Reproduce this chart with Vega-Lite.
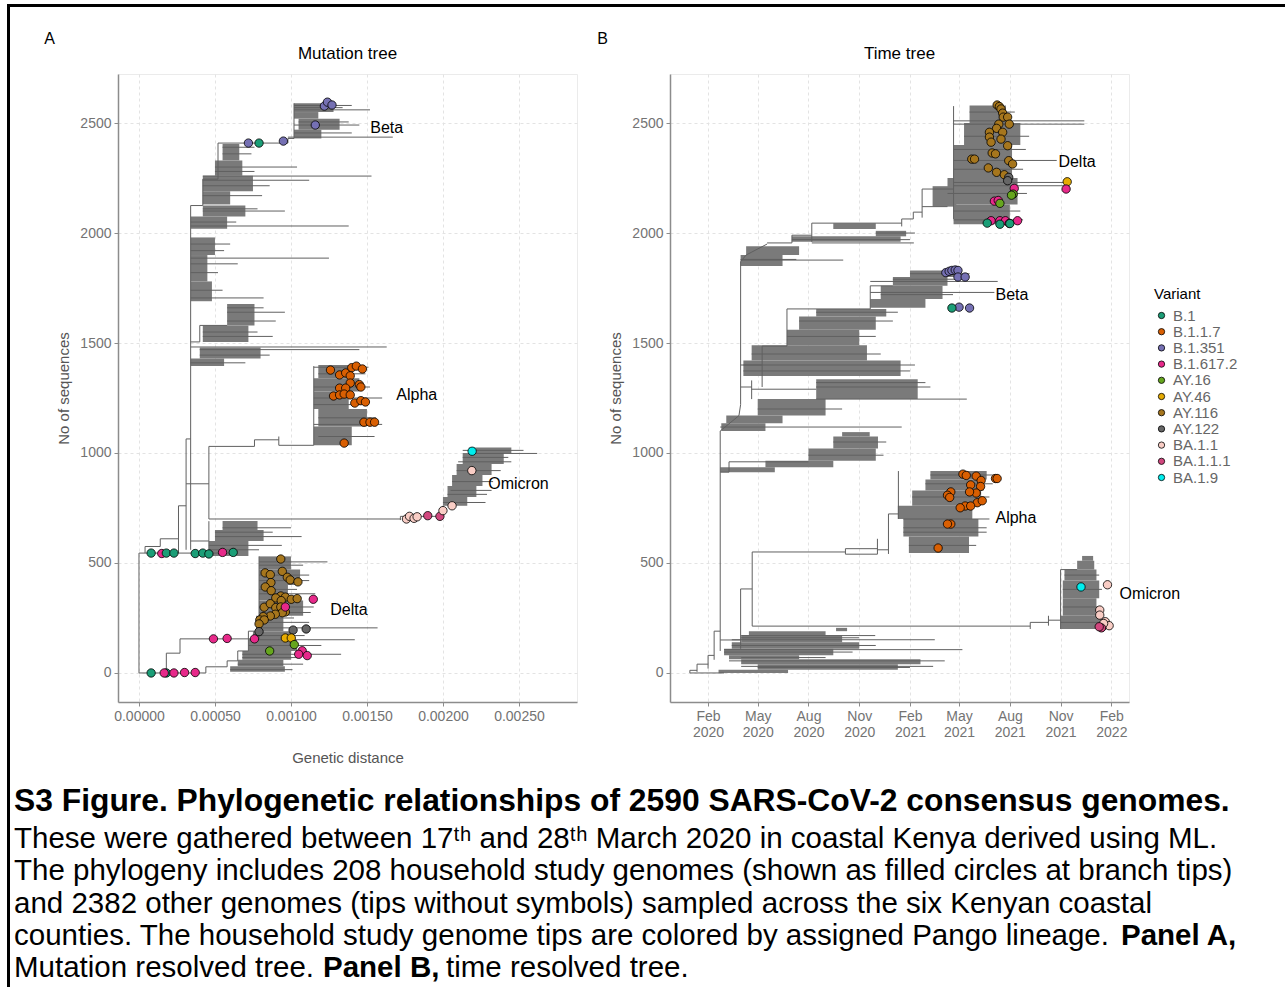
{
  "$schema": "https://vega.github.io/schema/vega-lite/v6.json",
  "padding": {"left": 7, "top": 4, "right": 0, "bottom": 0},
  "background": "white",
  "spacing": 0,
  "config": {
    "font": "Liberation Sans",
    "view": {"stroke": "#ebebeb", "strokeWidth": 1},
    "axis": {"domainColor": "#8c8c8c", "domainWidth": 1.5, "tickColor": "#8c8c8c", "tickSize": 4, "tickWidth": 1, "labelColor": "#737373", "labelFontSize": 14, "labelFont": "Liberation Sans", "titleColor": "#555555", "titleFontSize": 15, "titleFontWeight": "normal", "titleFont": "Liberation Sans", "gridColor": "#e3e3e3", "gridDash": [3, 3], "gridWidth": 1},
    "title": {"fontWeight": "normal", "color": "black", "font": "Liberation Sans"}
  },
  "datasets": {
    "none": [],
    "segA": [
      {"x":0,"x2":0,"y":0,"y2":545},{"x":0,"x2":0.00044,"y":0,"y2":0},{"x":0.00018,"x2":0.00018,"y":0,"y2":90},{"x":0.00018,"x2":0.00027,"y":90,"y2":90},{"x":0.00027,"x2":0.00027,"y":90,"y2":155},{"x":0.00027,"x2":0.00079,"y":155,"y2":155},{"x":0.00044,"x2":0.00044,"y":0,"y2":28},{"x":0.00044,"x2":0.00058,"y":28,"y2":28},{"x":0.00058,"x2":0.00058,"y":28,"y2":55},{"x":0.00058,"x2":0.00065,"y":55,"y2":55},{"x":0.00065,"x2":0.00065,"y":55,"y2":100},{"x":0.00065,"x2":0.00072,"y":100,"y2":100},{"x":0.00072,"x2":0.00072,"y":100,"y2":190},{"x":0.00072,"x2":0.00079,"y":190,"y2":190},{"x":0.00079,"x2":0.00079,"y":155,"y2":530},
      {"x":0,"x2":0.00062,"y":545,"y2":545},{"x":0.00004,"x2":0.00004,"y":545,"y2":575},{"x":0.00004,"x2":0.00014,"y":575,"y2":575},{"x":0.00014,"x2":0.00014,"y":575,"y2":610},{"x":0.00014,"x2":0.00026,"y":610,"y2":610},{"x":0.00026,"x2":0.00026,"y":545,"y2":760},{"x":0.00026,"x2":0.00031,"y":760,"y2":760},{"x":0.00031,"x2":0.00031,"y":560,"y2":1064},{"x":0.00031,"x2":0.00034,"y":1064,"y2":1064},{"x":0.00034,"x2":0.00034,"y":560,"y2":2125},{"x":0.00034,"x2":0.00046,"y":600,"y2":600},{"x":0.00046,"x2":0.00046,"y":540,"y2":690},
      {"x":0.00031,"x2":0.00046,"y":860,"y2":860},{"x":0.00046,"x2":0.00046,"y":700,"y2":1030},{"x":0.00046,"x2":0.00172,"y":700,"y2":700},{"x":0.00172,"x2":0.00172,"y":695,"y2":712},{"x":0.00172,"x2":0.002,"y":712,"y2":712},{"x":0.002,"x2":0.002,"y":712,"y2":760},
      {"x":0.00046,"x2":0.00076,"y":1030,"y2":1030},{"x":0.00076,"x2":0.00076,"y":1030,"y2":1060},{"x":0.00076,"x2":0.00092,"y":1060,"y2":1060},{"x":0.00092,"x2":0.00092,"y":1035,"y2":1075},{"x":0.00092,"x2":0.00115,"y":1035,"y2":1035},{"x":0.00115,"x2":0.00115,"y":1035,"y2":1395},
      {"x":0.00034,"x2":0.00042,"y":2125,"y2":2125},{"x":0.00042,"x2":0.00042,"y":2125,"y2":2245},{"x":0.00042,"x2":0.00052,"y":2245,"y2":2245},{"x":0.00052,"x2":0.00052,"y":2245,"y2":2409},{"x":0.00052,"x2":0.00098,"y":2409,"y2":2409},{"x":0.00098,"x2":0.00098,"y":2409,"y2":2430},{"x":0.00098,"x2":0.00102,"y":2430,"y2":2430},{"x":0.00102,"x2":0.00102,"y":2430,"y2":2590},
      {"x":0.00034,"x2":0.0004,"y":1505,"y2":1505},{"x":0.0004,"x2":0.0004,"y":1505,"y2":1580},{"x":0.0004,"x2":0.00058,"y":1580,"y2":1580},
      {"x":0.00079,"x2":0.00124,"y":505,"y2":505},{"x":0.00079,"x2":0.00115,"y":300,"y2":300},{"x":0.00079,"x2":0.00157,"y":205,"y2":205},{"x":0.00072,"x2":0.00142,"y":151,"y2":151},{"x":0.00079,"x2":0.00112,"y":230,"y2":230},{"x":0.00079,"x2":0.00112,"y":420,"y2":420},{"x":0.00079,"x2":0.00116,"y":360,"y2":360},{"x":0.00068,"x2":0.00133,"y":85,"y2":85},{"x":0.00072,"x2":0.0012,"y":125,"y2":125},{"x":0.00065,"x2":0.00108,"y":40,"y2":40},
      {"x":0.00079,"x2":0.00108,"y":490,"y2":490},{"x":0.00079,"x2":0.00112,"y":445,"y2":445},{"x":0.00079,"x2":0.00104,"y":380,"y2":380},{"x":0.00079,"x2":0.00113,"y":275,"y2":275},{"x":0.00077,"x2":0.00102,"y":250,"y2":250},{"x":0.0006,"x2":0.00101,"y":15,"y2":15},{"x":0.00068,"x2":0.00106,"y":70,"y2":70},{"x":0.00075,"x2":0.00109,"y":170,"y2":170},
      {"x":0.0005,"x2":0.00107,"y":620,"y2":620},{"x":0.00046,"x2":0.00094,"y":580,"y2":580},{"x":0.00055,"x2":0.001,"y":660,"y2":660},{"x":0.00046,"x2":0.00079,"y":560,"y2":560},{"x":0.0005,"x2":0.00088,"y":640,"y2":640},
      {"x":0.00217,"x2":0.00262,"y":998,"y2":998},{"x":0.00213,"x2":0.00253,"y":1012,"y2":1012},{"x":0.0021,"x2":0.00245,"y":960,"y2":960},{"x":0.00205,"x2":0.00232,"y":830,"y2":830},{"x":0.002,"x2":0.00228,"y":775,"y2":775},{"x":0.00203,"x2":0.00229,"y":812,"y2":812},{"x":0.00206,"x2":0.00233,"y":870,"y2":870},{"x":0.00209,"x2":0.00238,"y":920,"y2":920},{"x":0.00213,"x2":0.00243,"y":980,"y2":980},
      {"x":0.00115,"x2":0.0016,"y":1130,"y2":1130},{"x":0.00115,"x2":0.0016,"y":1250,"y2":1250},{"x":0.00115,"x2":0.00151,"y":1390,"y2":1390},{"x":0.00118,"x2":0.00155,"y":1075,"y2":1075},{"x":0.00115,"x2":0.00152,"y":1300,"y2":1300},{"x":0.00118,"x2":0.00156,"y":1160,"y2":1160},{"x":0.00115,"x2":0.00146,"y":1220,"y2":1220},{"x":0.00118,"x2":0.00149,"y":1360,"y2":1360},
      {"x":0.00102,"x2":0.00152,"y":2560,"y2":2560},{"x":0.00102,"x2":0.00145,"y":2491,"y2":2491},{"x":0.00098,"x2":0.00167,"y":2436,"y2":2436},{"x":0.00102,"x2":0.0014,"y":2580,"y2":2580},{"x":0.00102,"x2":0.0014,"y":2455,"y2":2455},{"x":0.00105,"x2":0.00138,"y":2505,"y2":2505},{"x":0.00102,"x2":0.00134,"y":2570,"y2":2570},
      {"x":0.00042,"x2":0.00153,"y":2259,"y2":2259},{"x":0.00042,"x2":0.00112,"y":2240,"y2":2240},{"x":0.0005,"x2":0.00104,"y":2300,"y2":2300},{"x":0.00042,"x2":0.00096,"y":2100,"y2":2100},{"x":0.00034,"x2":0.00138,"y":2032,"y2":2032},{"x":0.00034,"x2":0.00125,"y":1886,"y2":1886},{"x":0.00034,"x2":0.00082,"y":1705,"y2":1705},{"x":0.00034,"x2":0.00065,"y":1860,"y2":1860},{"x":0.00034,"x2":0.0006,"y":1950,"y2":1950},{"x":0.00058,"x2":0.00096,"y":1640,"y2":1640},{"x":0.00058,"x2":0.0009,"y":1600,"y2":1600},{"x":0.00042,"x2":0.00088,"y":1530,"y2":1530},{"x":0.00034,"x2":0.00163,"y":1482,"y2":1482},{"x":0.0004,"x2":0.00145,"y":1470,"y2":1470},{"x":0.00034,"x2":0.0007,"y":1410,"y2":1410},
      {"x":0.00042,"x2":0.00081,"y":2170,"y2":2170},{"x":0.00042,"x2":0.00086,"y":2215,"y2":2215},{"x":0.0005,"x2":0.00076,"y":2280,"y2":2280},{"x":0.00055,"x2":0.00074,"y":2360,"y2":2360},{"x":0.00055,"x2":0.00076,"y":2390,"y2":2390},{"x":0.00034,"x2":0.00064,"y":2050,"y2":2050},{"x":0.00042,"x2":0.00078,"y":2110,"y2":2110},{"x":0.00034,"x2":0.00056,"y":1920,"y2":1920},{"x":0.00034,"x2":0.00052,"y":1820,"y2":1820},{"x":0.00034,"x2":0.00055,"y":1740,"y2":1740},{"x":0.00058,"x2":0.00082,"y":1660,"y2":1660},{"x":0.00042,"x2":0.00078,"y":1550,"y2":1550},{"x":0.0004,"x2":0.00086,"y":1445,"y2":1445}
    ],
    "blkA": [
      {"x":0.00079,"x2":0.001,"y":470,"y2":530},{"x":0.00079,"x2":0.00106,"y":400,"y2":470},{"x":0.00079,"x2":0.00098,"y":330,"y2":400},{"x":0.00079,"x2":0.00108,"y":260,"y2":330},{"x":0.00077,"x2":0.00095,"y":190,"y2":260},
      {"x":0.0006,"x2":0.00096,"y":5,"y2":30},{"x":0.00065,"x2":0.00095,"y":30,"y2":60},{"x":0.00068,"x2":0.001,"y":60,"y2":100},{"x":0.00072,"x2":0.00104,"y":100,"y2":150},{"x":0.00075,"x2":0.00102,"y":150,"y2":190},
      {"x":0.00046,"x2":0.00072,"y":532,"y2":600},{"x":0.0005,"x2":0.00082,"y":600,"y2":650},{"x":0.00055,"x2":0.00078,"y":650,"y2":691},
      {"x":0.002,"x2":0.00216,"y":760,"y2":800},{"x":0.00203,"x2":0.00222,"y":800,"y2":850},{"x":0.00206,"x2":0.00226,"y":850,"y2":900},{"x":0.00209,"x2":0.00232,"y":900,"y2":950},{"x":0.00213,"x2":0.0024,"y":950,"y2":1000},{"x":0.00217,"x2":0.00245,"y":1000,"y2":1025},
      {"x":0.00115,"x2":0.0014,"y":1035,"y2":1120},{"x":0.00118,"x2":0.0015,"y":1120,"y2":1200},{"x":0.00115,"x2":0.00138,"y":1200,"y2":1280},{"x":0.00115,"x2":0.00145,"y":1280,"y2":1340},{"x":0.00118,"x2":0.0014,"y":1340,"y2":1400},
      {"x":0.00102,"x2":0.0012,"y":2430,"y2":2470},{"x":0.00105,"x2":0.00132,"y":2470,"y2":2520},{"x":0.00102,"x2":0.00118,"y":2520,"y2":2550},{"x":0.00102,"x2":0.00128,"y":2550,"y2":2590},
      {"x":0.00042,"x2":0.0006,"y":2130,"y2":2190},{"x":0.00042,"x2":0.00075,"y":2190,"y2":2260},{"x":0.0005,"x2":0.00068,"y":2260,"y2":2330},{"x":0.00055,"x2":0.00066,"y":2330,"y2":2405},
      {"x":0.00034,"x2":0.00058,"y":2020,"y2":2075},{"x":0.00042,"x2":0.0007,"y":2075,"y2":2125},{"x":0.00034,"x2":0.0005,"y":1900,"y2":1980},{"x":0.00034,"x2":0.00045,"y":1780,"y2":1900},{"x":0.00034,"x2":0.00048,"y":1690,"y2":1780},
      {"x":0.00058,"x2":0.00076,"y":1580,"y2":1677},{"x":0.00042,"x2":0.00072,"y":1505,"y2":1580},{"x":0.00034,"x2":0.00056,"y":1395,"y2":1430},{"x":0.0004,"x2":0.0008,"y":1430,"y2":1480}
    ],
    "ptA": [
      {"v":"B.1","x":0.00008,"y":545},{"v":"B.1.617.2","x":0.00015,"y":543},{"v":"B.1","x":0.00018,"y":545},{"v":"B.1","x":0.00023,"y":545},{"v":"B.1","x":0.00037,"y":543},{"v":"B.1","x":0.00042,"y":545},{"v":"B.1","x":0.00046,"y":541},{"v":"B.1.617.2","x":0.00055,"y":548},{"v":"B.1","x":0.00062,"y":548},
      {"v":"B.1","x":0.00008,"y":0},{"v":"B.1","x":0.00018,"y":0},{"v":"B.1.617.2","x":0.000166,"y":0},{"v":"B.1.617.2","x":0.00023,"y":0},{"v":"B.1.617.2","x":0.0003,"y":2},{"v":"B.1.617.2","x":0.00037,"y":2},
      {"v":"B.1.617.2","x":0.00049,"y":155},{"v":"B.1.617.2","x":0.00058,"y":157},{"v":"B.1.617.2","x":0.00076,"y":155},
      {"v":"AY.116","x":0.000933,"y":518},{"v":"AY.116","x":0.00083,"y":455},{"v":"AY.116","x":0.000864,"y":447},{"v":"AY.116","x":0.000868,"y":411},{"v":"AY.116","x":0.000943,"y":462},{"v":"AY.116","x":0.000976,"y":435},{"v":"AY.116","x":0.000995,"y":423},{"v":"AY.116","x":0.001046,"y":414},{"v":"AY.116","x":0.000831,"y":391},{"v":"AY.116","x":0.00087,"y":374},{"v":"AY.116","x":0.000933,"y":350},{"v":"AY.116","x":0.000963,"y":345},{"v":"AY.116","x":0.0009,"y":341},{"v":"AY.116","x":0.000936,"y":329},{"v":"AY.116","x":0.001002,"y":335},{"v":"AY.116","x":0.001041,"y":338},{"v":"AY.116","x":0.000824,"y":299},{"v":"AY.116","x":0.000864,"y":315},{"v":"AY.116","x":0.0009,"y":297},{"v":"AY.116","x":0.000933,"y":300},{"v":"AY.116","x":0.000963,"y":277},{"v":"AY.116","x":0.000943,"y":274},{"v":"AY.116","x":0.000897,"y":267},{"v":"AY.116","x":0.000864,"y":259},{"v":"AY.116","x":0.000818,"y":256},{"v":"AY.116","x":0.000795,"y":241},{"v":"AY.116","x":0.000824,"y":241},{"v":"AY.116","x":0.00079,"y":223},
      {"v":"B.1.617.2","x":0.001147,"y":335},{"v":"B.1.617.2","x":0.000963,"y":300},{"v":"B.1.617.2","x":0.001074,"y":101},{"v":"B.1.617.2","x":0.001051,"y":85},{"v":"B.1.617.2","x":0.001107,"y":79},
      {"v":"AY.122","x":0.001014,"y":195},{"v":"AY.122","x":0.0011,"y":200},{"v":"AY.122","x":0.00079,"y":188},
      {"v":"AY.46","x":0.000963,"y":159},{"v":"AY.46","x":0.001002,"y":159},
      {"v":"AY.16","x":0.001022,"y":129},{"v":"AY.16","x":0.00086,"y":100},
      {"v":"B.1.1.7","x":0.00126,"y":1377},{"v":"B.1.1.7","x":0.00132,"y":1355},{"v":"B.1.1.7","x":0.00136,"y":1364},{"v":"B.1.1.7","x":0.0014,"y":1388},{"v":"B.1.1.7","x":0.00143,"y":1395},{"v":"B.1.1.7","x":0.00147,"y":1382},{"v":"B.1.1.7","x":0.00139,"y":1351},{"v":"B.1.1.7","x":0.00139,"y":1318},{"v":"B.1.1.7","x":0.00132,"y":1295},{"v":"B.1.1.7","x":0.00136,"y":1295},{"v":"B.1.1.7","x":0.00145,"y":1311},{"v":"B.1.1.7","x":0.00146,"y":1300},{"v":"B.1.1.7","x":0.00128,"y":1259},{"v":"B.1.1.7","x":0.00132,"y":1264},{"v":"B.1.1.7","x":0.00135,"y":1268},{"v":"B.1.1.7","x":0.00139,"y":1264},{"v":"B.1.1.7","x":0.00142,"y":1227},{"v":"B.1.1.7","x":0.00146,"y":1238},{"v":"B.1.1.7","x":0.00149,"y":1232},{"v":"B.1.1.7","x":0.00148,"y":1140},{"v":"B.1.1.7","x":0.00152,"y":1140},{"v":"B.1.1.7","x":0.00155,"y":1140},{"v":"B.1.1.7","x":0.00135,"y":1045},
      {"v":"BA.1.1","x":0.00176,"y":700},{"v":"BA.1.1","x":0.00178,"y":712},{"v":"BA.1.1","x":0.00181,"y":703},{"v":"BA.1.1","x":0.00183,"y":710},{"v":"BA.1.1.1","x":0.0019,"y":715},{"v":"BA.1.1.1","x":0.00198,"y":712},{"v":"BA.1.1","x":0.002,"y":738},{"v":"BA.1.1","x":0.00206,"y":760},{"v":"BA.1.9","x":0.002192,"y":1008},{"v":"BA.1.1","x":0.00219,"y":920},
      {"v":"B.1.351","x":0.00122,"y":2577},{"v":"B.1.351","x":0.00124,"y":2595},{"v":"B.1.351","x":0.00127,"y":2582},{"v":"B.1.351","x":0.00116,"y":2491},{"v":"B.1.351","x":0.00072,"y":2409},{"v":"B.1","x":0.00079,"y":2409},{"v":"B.1.351","x":0.00095,"y":2418}
    ],
    "labA": [
      {"x":0.001522,"y":2477,"t":"Beta"},{"x":0.001693,"y":1264,"t":"Alpha"},{"x":0.002298,"y":859,"t":"Omicron"},{"x":0.001258,"y":286,"t":"Delta"}
    ],
    "segB": [
      {"d":"2019-12-30","d2":"2019-12-30","y":0,"y2":12},{"d":"2019-12-30","d2":"2020-03-01","y":0,"y2":0},{"d":"2019-12-30","d2":"2020-01-12","y":12,"y2":12},{"d":"2020-01-12","d2":"2020-01-12","y":5,"y2":40},{"d":"2020-01-12","d2":"2020-02-01","y":40,"y2":40},{"d":"2020-02-01","d2":"2020-02-01","y":20,"y2":80},{"d":"2020-02-01","d2":"2020-02-12","y":80,"y2":80},{"d":"2020-02-12","d2":"2020-02-12","y":60,"y2":190},{"d":"2020-02-12","d2":"2020-02-23","y":190,"y2":190},{"d":"2020-02-23","d2":"2020-02-23","y":100,"y2":1100},
      {"d":"2020-02-23","d2":"2020-03-31","y":150,"y2":150},{"d":"2020-03-31","d2":"2020-03-31","y":110,"y2":382},{"d":"2020-03-31","d2":"2020-04-21","y":382,"y2":382},{"d":"2020-04-21","d2":"2020-04-21","y":213,"y2":550},{"d":"2020-04-21","d2":"2020-10-07","y":550,"y2":550},
      {"d":"2020-10-07","d2":"2020-10-07","y":540,"y2":565},{"d":"2020-10-07","d2":"2020-12-04","y":565,"y2":565},{"d":"2020-10-07","d2":"2020-12-04","y":540,"y2":540},{"d":"2020-12-04","d2":"2020-12-04","y":540,"y2":610},{"d":"2020-12-04","d2":"2020-12-24","y":560,"y2":560},{"d":"2020-12-24","d2":"2020-12-24","y":541,"y2":723},{"d":"2020-12-24","d2":"2021-01-11","y":723,"y2":723},{"d":"2021-01-11","d2":"2021-01-11","y":700,"y2":918},
      {"d":"2020-04-21","d2":"2021-09-07","y":213,"y2":213},{"d":"2021-09-07","d2":"2021-09-07","y":200,"y2":230},{"d":"2021-09-07","d2":"2021-10-10","y":230,"y2":230},{"d":"2021-10-10","d2":"2021-10-10","y":215,"y2":260},{"d":"2021-10-10","d2":"2021-11-01","y":240,"y2":240},{"d":"2021-11-01","d2":"2021-11-01","y":200,"y2":470},{"d":"2021-11-01","d2":"2021-12-01","y":470,"y2":470},
      {"d":"2020-02-23","d2":"2020-03-28","y":1100,"y2":1170},{"d":"2020-03-28","d2":"2020-03-31","y":1170,"y2":1220},{"d":"2020-03-31","d2":"2020-03-31","y":1220,"y2":1870},{"d":"2020-03-31","d2":"2020-04-10","y":1870,"y2":1900},{"d":"2020-04-10","d2":"2020-05-18","y":1900,"y2":1950},{"d":"2020-05-18","d2":"2020-07-02","y":1955,"y2":1955},{"d":"2020-07-02","d2":"2020-07-02","y":1955,"y2":1990},{"d":"2020-07-02","d2":"2020-08-07","y":1990,"y2":1990},{"d":"2020-08-07","d2":"2020-08-07","y":1960,"y2":2045},{"d":"2020-08-07","d2":"2021-01-17","y":2045,"y2":2045},{"d":"2021-01-17","d2":"2021-01-17","y":2030,"y2":2064},{"d":"2021-01-17","d2":"2021-02-07","y":2064,"y2":2064},{"d":"2021-02-07","d2":"2021-02-07","y":2064,"y2":2095},{"d":"2021-02-07","d2":"2021-02-23","y":2095,"y2":2095},{"d":"2021-02-23","d2":"2021-02-23","y":2070,"y2":2200},{"d":"2021-02-23","d2":"2021-04-21","y":2200,"y2":2200},{"d":"2021-04-21","d2":"2021-04-21","y":2064,"y2":2577},{"d":"2021-02-23","d2":"2021-04-10","y":2120,"y2":2120},
      {"d":"2020-03-31","d2":"2020-05-09","y":1400,"y2":1400},{"d":"2020-05-09","d2":"2020-05-09","y":1300,"y2":1486},{"d":"2020-05-09","d2":"2020-06-23","y":1486,"y2":1486},{"d":"2020-06-23","d2":"2020-06-23","y":1486,"y2":1655},{"d":"2020-06-23","d2":"2020-11-21","y":1655,"y2":1655},{"d":"2020-11-21","d2":"2020-11-21","y":1655,"y2":1760},{"d":"2020-11-21","d2":"2021-01-01","y":1760,"y2":1760},
      {"d":"2020-03-31","d2":"2020-04-20","y":1300,"y2":1300},{"d":"2020-04-20","d2":"2020-04-20","y":1245,"y2":1330},{"d":"2020-04-20","d2":"2020-08-15","y":1290,"y2":1290},{"d":"2020-02-23","d2":"2020-03-10","y":913,"y2":913},{"d":"2020-03-10","d2":"2020-03-10","y":913,"y2":960},{"d":"2020-03-10","d2":"2020-08-01","y":960,"y2":960},
      {"d":"2020-03-10","d2":"2021-04-05","y":55,"y2":55},{"d":"2020-04-01","d2":"2021-03-15","y":30,"y2":30},{"d":"2020-03-01","d2":"2021-05-07","y":106,"y2":106},{"d":"2020-03-15","d2":"2021-03-18","y":151,"y2":151},{"d":"2020-04-01","d2":"2020-11-30","y":170,"y2":170},{"d":"2020-02-23","d2":"2021-01-17","y":1118,"y2":1118},{"d":"2020-08-15","d2":"2021-05-15","y":1245,"y2":1245},{"d":"2020-08-15","d2":"2021-03-10","y":1300,"y2":1300},{"d":"2020-04-05","d2":"2021-02-01","y":1373,"y2":1373},{"d":"2020-03-31","d2":"2020-10-03","y":1877,"y2":1877},{"d":"2020-11-21","d2":"2021-07-04","y":1730,"y2":1730},{"d":"2020-11-21","d2":"2021-07-10","y":1780,"y2":1780},{"d":"2021-04-21","d2":"2021-12-14","y":2495,"y2":2495},{"d":"2021-04-21","d2":"2021-12-14","y":2510,"y2":2510},{"d":"2021-04-21","d2":"2021-11-13","y":2215,"y2":2215},{"d":"2021-04-21","d2":"2021-11-13","y":2230,"y2":2230},{"d":"2021-04-21","d2":"2021-10-25","y":2330,"y2":2330},{"d":"2021-01-20","d2":"2021-06-25","y":700,"y2":700},{"d":"2021-01-20","d2":"2021-06-20","y":640,"y2":640},{"d":"2020-08-07","d2":"2021-02-08","y":1955,"y2":1955},{"d":"2021-04-21","d2":"2021-08-25","y":2060,"y2":2060},
      {"d":"2020-05-01","d2":"2021-02-01","y":25,"y2":25},{"d":"2020-04-01","d2":"2020-09-01","y":70,"y2":70},{"d":"2020-03-01","d2":"2020-10-20","y":95,"y2":95},{"d":"2020-03-15","d2":"2020-12-01","y":125,"y2":125},{"d":"2020-04-01","d2":"2020-11-01","y":160,"y2":160},{"d":"2020-08-01","d2":"2020-12-15","y":990,"y2":990},{"d":"2020-09-15","d2":"2020-12-20","y":1050,"y2":1050},
      {"d":"2020-05-01","d2":"2020-10-01","y":1200,"y2":1200},{"d":"2020-08-15","d2":"2021-03-01","y":1320,"y2":1320},{"d":"2020-04-05","d2":"2021-02-10","y":1400,"y2":1400},{"d":"2020-04-20","d2":"2020-12-10","y":1450,"y2":1450},{"d":"2020-06-23","d2":"2020-12-01","y":1530,"y2":1530},{"d":"2020-07-15","d2":"2021-01-01","y":1600,"y2":1600},{"d":"2020-08-15","d2":"2021-01-10","y":1640,"y2":1640},
      {"d":"2020-12-10","d2":"2021-04-20","y":1720,"y2":1720},{"d":"2021-01-01","d2":"2021-05-01","y":1790,"y2":1790},{"d":"2021-02-01","d2":"2021-05-20","y":1815,"y2":1815},{"d":"2020-03-31","d2":"2020-07-10","y":1880,"y2":1880},{"d":"2020-07-02","d2":"2021-02-01","y":1970,"y2":1970},{"d":"2020-12-01","d2":"2021-02-10","y":2000,"y2":2000},
      {"d":"2021-04-21","d2":"2021-08-20","y":2100,"y2":2100},{"d":"2021-04-10","d2":"2021-09-01","y":2180,"y2":2180},{"d":"2021-04-21","d2":"2021-08-25","y":2290,"y2":2290},{"d":"2021-04-21","d2":"2021-08-30","y":2380,"y2":2380},{"d":"2021-05-10","d2":"2021-09-05","y":2440,"y2":2440},{"d":"2021-05-20","d2":"2021-08-10","y":2550,"y2":2550},
      {"d":"2021-01-30","d2":"2021-06-01","y":580,"y2":580},{"d":"2021-01-20","d2":"2021-06-20","y":660,"y2":660},{"d":"2021-02-05","d2":"2021-06-25","y":800,"y2":800},{"d":"2021-03-01","d2":"2021-07-01","y":860,"y2":860},{"d":"2021-03-10","d2":"2021-07-05","y":900,"y2":900},
      {"d":"2021-11-01","d2":"2022-01-20","y":230,"y2":230},{"d":"2021-11-05","d2":"2022-01-12","y":300,"y2":300},{"d":"2021-11-05","d2":"2022-01-15","y":380,"y2":380},{"d":"2021-11-08","d2":"2022-01-10","y":445,"y2":445}
    ],
    "blkB": [
      {"d":"2020-02-20","d2":"2020-06-25","y":0,"y2":15},{"d":"2020-05-01","d2":"2021-01-10","y":15,"y2":40},{"d":"2020-04-01","d2":"2021-02-20","y":40,"y2":62},{"d":"2020-03-10","d2":"2020-07-15","y":62,"y2":80},
      {"d":"2020-03-01","d2":"2020-09-15","y":80,"y2":110},{"d":"2020-03-15","d2":"2020-11-01","y":110,"y2":140},{"d":"2020-04-01","d2":"2020-10-01","y":140,"y2":170},{"d":"2020-04-15","d2":"2020-09-01","y":170,"y2":190},{"d":"2020-09-20","d2":"2020-10-10","y":190,"y2":205},
      {"d":"2020-02-23","d2":"2020-06-01","y":913,"y2":935},{"d":"2020-05-15","d2":"2020-09-15","y":935,"y2":965},{"d":"2020-08-01","d2":"2020-12-01","y":965,"y2":1020},{"d":"2020-09-15","d2":"2020-12-05","y":1020,"y2":1075},{"d":"2020-10-01","d2":"2020-11-20","y":1075,"y2":1095},
      {"d":"2020-02-25","d2":"2020-05-15","y":1100,"y2":1135},{"d":"2020-03-05","d2":"2020-06-15","y":1135,"y2":1170},{"d":"2020-05-01","d2":"2020-09-01","y":1170,"y2":1245},{"d":"2020-08-15","d2":"2021-02-15","y":1245,"y2":1335},{"d":"2020-04-05","d2":"2021-01-15","y":1350,"y2":1420},{"d":"2020-04-20","d2":"2020-11-15","y":1420,"y2":1490},{"d":"2020-06-23","d2":"2020-11-01","y":1490,"y2":1560},{"d":"2020-07-15","d2":"2020-12-01","y":1560,"y2":1620},{"d":"2020-08-15","d2":"2020-12-20","y":1620,"y2":1655},
      {"d":"2020-11-21","d2":"2021-03-01","y":1660,"y2":1700},{"d":"2020-12-10","d2":"2021-04-01","y":1700,"y2":1760},{"d":"2021-01-01","d2":"2021-04-10","y":1760,"y2":1800},{"d":"2021-02-01","d2":"2021-04-25","y":1800,"y2":1830},
      {"d":"2020-03-31","d2":"2020-06-15","y":1850,"y2":1900},{"d":"2020-04-10","d2":"2020-07-15","y":1900,"y2":1940},{"d":"2020-07-02","d2":"2021-01-15","y":1960,"y2":1985},{"d":"2020-12-01","d2":"2021-01-25","y":1985,"y2":2010},{"d":"2020-09-15","d2":"2020-12-01","y":2018,"y2":2045},
      {"d":"2021-04-21","d2":"2021-08-01","y":2040,"y2":2130},{"d":"2021-03-14","d2":"2021-04-26","y":2120,"y2":2213},{"d":"2021-04-10","d2":"2021-08-15","y":2130,"y2":2250},{"d":"2021-04-21","d2":"2021-08-05","y":2250,"y2":2400},{"d":"2021-05-10","d2":"2021-08-20","y":2400,"y2":2500},{"d":"2021-05-20","d2":"2021-07-25","y":2500,"y2":2580},
      {"d":"2021-01-30","d2":"2021-05-19","y":545,"y2":620},{"d":"2021-01-20","d2":"2021-06-05","y":620,"y2":700},{"d":"2021-01-10","d2":"2021-05-25","y":700,"y2":760},{"d":"2021-02-05","d2":"2021-06-10","y":760,"y2":830},{"d":"2021-03-01","d2":"2021-06-15","y":830,"y2":880},{"d":"2021-03-10","d2":"2021-06-20","y":880,"y2":918},
      {"d":"2021-11-01","d2":"2022-01-15","y":200,"y2":260},{"d":"2021-11-05","d2":"2022-01-05","y":260,"y2":340},{"d":"2021-11-05","d2":"2022-01-10","y":340,"y2":420},{"d":"2021-11-08","d2":"2022-01-05","y":420,"y2":470},{"d":"2021-12-01","d2":"2022-01-01","y":470,"y2":510},{"d":"2021-12-10","d2":"2021-12-30","y":510,"y2":532}
    ],
    "ptB": [
      {"v":"AY.116","d":"2021-07-09","y":2582},{"v":"AY.116","d":"2021-07-13","y":2575},{"v":"AY.116","d":"2021-07-16","y":2564},{"v":"AY.116","d":"2021-07-19","y":2545},{"v":"AY.116","d":"2021-07-20","y":2527},{"v":"AY.116","d":"2021-07-28","y":2527},{"v":"AY.116","d":"2021-07-12","y":2495},{"v":"AY.116","d":"2021-07-31","y":2495},{"v":"AY.116","d":"2021-07-08","y":2476},{"v":"AY.116","d":"2021-06-25","y":2458},{"v":"AY.116","d":"2021-07-19","y":2458},{"v":"AY.116","d":"2021-06-25","y":2436},{"v":"AY.116","d":"2021-07-16","y":2427},{"v":"AY.116","d":"2021-06-28","y":2413},{"v":"AY.116","d":"2021-07-28","y":2397},{"v":"AY.116","d":"2021-06-30","y":2364},{"v":"AY.116","d":"2021-07-06","y":2360},{"v":"AY.116","d":"2021-05-24","y":2336},{"v":"AY.116","d":"2021-05-29","y":2336},{"v":"AY.116","d":"2021-07-30","y":2329},{"v":"AY.116","d":"2021-08-06","y":2314},{"v":"AY.116","d":"2021-06-23","y":2296},{"v":"AY.116","d":"2021-07-08","y":2276},{"v":"AY.116","d":"2021-07-22","y":2265},
      {"v":"AY.122","d":"2021-07-30","y":2253},{"v":"AY.122","d":"2021-07-28","y":2238},
      {"v":"AY.46","d":"2021-11-13","y":2233},
      {"v":"B.1.617.2","d":"2021-11-11","y":2200},{"v":"B.1.617.2","d":"2021-08-09","y":2203},{"v":"B.1.617.2","d":"2021-07-04","y":2145},{"v":"B.1.617.2","d":"2021-07-11","y":2148},{"v":"B.1.617.2","d":"2021-06-28","y":2056},{"v":"B.1.617.2","d":"2021-07-14","y":2056},{"v":"B.1.617.2","d":"2021-07-24","y":2056},{"v":"B.1.617.2","d":"2021-08-15","y":2056},{"v":"B.1.617.2","d":"2021-07-31","y":2044},
      {"v":"B.1","d":"2021-06-21","y":2045},{"v":"B.1","d":"2021-07-14","y":2040},{"v":"B.1","d":"2021-08-01","y":2043},
      {"v":"AY.16","d":"2021-08-07","y":2177},{"v":"AY.16","d":"2021-08-04","y":2172},{"v":"AY.16","d":"2021-07-14","y":2135},
      {"v":"B.1.351","d":"2021-04-07","y":1820},{"v":"B.1.351","d":"2021-04-13","y":1826},{"v":"B.1.351","d":"2021-04-18","y":1830},{"v":"B.1.351","d":"2021-04-24","y":1832},{"v":"B.1.351","d":"2021-04-29","y":1830},{"v":"B.1.351","d":"2021-04-29","y":1800},{"v":"B.1.351","d":"2021-05-12","y":1800},{"v":"B.1.351","d":"2021-05-01","y":1663},{"v":"B.1.351","d":"2021-05-20","y":1659},{"v":"B.1","d":"2021-04-18","y":1659},
      {"v":"B.1.1.7","d":"2021-05-08","y":904},{"v":"B.1.1.7","d":"2021-05-14","y":898},{"v":"B.1.1.7","d":"2021-06-01","y":895},{"v":"B.1.1.7","d":"2021-06-10","y":875},{"v":"B.1.1.7","d":"2021-07-06","y":884},{"v":"B.1.1.7","d":"2021-07-09","y":884},{"v":"B.1.1.7","d":"2021-05-22","y":855},{"v":"B.1.1.7","d":"2021-06-09","y":848},{"v":"B.1.1.7","d":"2021-06-01","y":818},{"v":"B.1.1.7","d":"2021-05-20","y":823},{"v":"B.1.1.7","d":"2021-04-16","y":823},{"v":"B.1.1.7","d":"2021-04-10","y":808},{"v":"B.1.1.7","d":"2021-04-14","y":798},{"v":"B.1.1.7","d":"2021-06-03","y":774},{"v":"B.1.1.7","d":"2021-06-12","y":783},{"v":"B.1.1.7","d":"2021-05-12","y":759},{"v":"B.1.1.7","d":"2021-05-03","y":751},{"v":"B.1.1.7","d":"2021-05-22","y":759},{"v":"B.1.1.7","d":"2021-04-16","y":677},{"v":"B.1.1.7","d":"2021-04-10","y":677},{"v":"B.1.1.7","d":"2021-03-24","y":568},
      {"v":"BA.1.9","d":"2021-12-08","y":391},{"v":"BA.1.1","d":"2022-01-25","y":401},{"v":"BA.1.1","d":"2022-01-11","y":286},{"v":"BA.1.1","d":"2022-01-11","y":263},{"v":"BA.1.1","d":"2022-01-21","y":233},{"v":"BA.1.1","d":"2022-01-28","y":215},{"v":"BA.1.1","d":"2022-01-15","y":208},{"v":"BA.1.1","d":"2022-01-18","y":225},{"v":"BA.1.1.1","d":"2022-01-14","y":205},{"v":"BA.1.1.1","d":"2022-01-10","y":210}
    ],
    "labB": [
      {"d":"2021-10-28","y":2324,"t":"Delta"},{"d":"2021-07-06","y":1718,"t":"Beta"},{"d":"2021-07-06","y":705,"t":"Alpha"},{"d":"2022-02-16","y":359,"t":"Omicron"}
    ],
    "cap": [
      {"line":0,"s":0,"t":"S3 Figure. Phylogenetic relationships of 2590 SARS-CoV-2 consensus genomes."},
      {"line":1,"s":1,"t":"These were gathered between 17ᵗʰ and 28ᵗʰ March 2020 in coastal Kenya derived using ML."},
      {"line":2,"s":1,"t":"The phylogeny includes 208 household study genomes (shown as filled circles at branch tips)"},
      {"line":3,"s":1,"t":"and 2382 other genomes (tips without symbols) sampled across the six Kenyan coastal"},
      {"line":4,"s":1,"t":"counties. The household study genome tips are colored by assigned Pango lineage."},
      {"line":4,"s":2,"t":"Panel A,"},
      {"line":5,"s":1,"t":"Mutation resolved tree."},
      {"line":5,"s":3,"t":"Panel B,"},
      {"line":5,"s":4,"t":"time resolved tree."}
    ]
  },
  "vconcat": [
    {
      "width": 1278, "height": 3,
      "data": {"name": "none"},
      "mark": {"type": "text", "text": ""},
      "encoding": {},
      "view": {"fill": "black", "stroke": null}
    },
    {
      "spacing": 4,
      "hconcat": [
        {
          "width": 3, "height": 980,
          "data": {"name": "none"},
          "mark": {"type": "text", "text": ""},
          "encoding": {},
          "view": {"fill": "black", "stroke": null}
        },
        {
          "spacing": 22,
          "vconcat": [
            {
              "width": 1, "height": 1,
              "data": {"name": "none"},
              "mark": {"type": "text", "text": ""},
              "encoding": {},
              "view": {"stroke": null}
            },
            {
              "spacing": 20,
              "vconcat": [
                {
                  "spacing": 19,
                  "resolve": {"scale": {"color": "independent"}, "legend": {"color": "independent"}},
                  "hconcat": [
                    {
                      "title": {"text": "A", "anchor": "start", "fontSize": 16, "dx": -12, "offset": -2},
                      "vconcat": [
                        {
                          "width": 459, "height": 628,
                          "title": {"text": "Mutation tree", "fontSize": 17, "offset": 11},
                          "layer": [
                            {
                              "data": {"name": "blkA"},
                              "mark": {"type": "rect", "color": "#7a7a7a"},
                              "encoding": {
                                "x": {"field": "x", "type": "quantitative", "scale": {"domain": [-0.000138, 0.002882], "nice": false, "zero": false}, "axis": {"title": "Genetic distance", "values": [0, 0.0005, 0.001, 0.0015, 0.002, 0.0025], "format": ".5f", "grid": true, "titlePadding": 27, "labelPadding": 3}},
                                "x2": {"field": "x2"},
                                "y": {"field": "y", "type": "quantitative", "scale": {"domain": [-132, 2723], "nice": false, "zero": false}, "axis": {"title": "No of sequences", "values": [0, 500, 1000, 1500, 2000, 2500], "format": "d", "grid": true, "titlePadding": 8, "labelPadding": 3}},
                                "y2": {"field": "y2"}
                              }
                            },
                            {
                              "data": {"name": "segA"},
                              "mark": {"type": "rule", "color": "#606060", "strokeWidth": 1},
                              "encoding": {"x": {"field": "x", "type": "quantitative"}, "x2": {"field": "x2"}, "y": {"field": "y", "type": "quantitative"}, "y2": {"field": "y2"}}
                            },
                            {
                              "data": {"name": "ptA"},
                              "mark": {"type": "point", "filled": true, "size": 70, "stroke": "black", "strokeWidth": 0.8, "opacity": 1},
                              "encoding": {
                                "x": {"field": "x", "type": "quantitative"},
                                "y": {"field": "y", "type": "quantitative"},
                                "color": {"field": "v", "type": "nominal", "legend": null, "scale": {"domain": ["B.1","B.1.1.7","B.1.351","B.1.617.2","AY.16","AY.46","AY.116","AY.122","BA.1.1","BA.1.1.1","BA.1.9"], "range": ["#1b9e77","#d95f02","#7570b3","#e7298a","#66a61e","#e6ab02","#a6761d","#666666","#f9cdc5","#d1477e","#00eeee"]}}
                              }
                            },
                            {
                              "data": {"name": "labA"},
                              "mark": {"type": "text", "align": "left", "baseline": "middle", "fontSize": 16, "color": "black"},
                              "encoding": {"x": {"field": "x", "type": "quantitative"}, "y": {"field": "y", "type": "quantitative"}, "text": {"field": "t"}}
                            }
                          ]
                        }
                      ]
                    },
                    {
                      "title": {"text": "B", "anchor": "start", "fontSize": 16, "dx": -11, "offset": -2},
                      "vconcat": [
                        {
                          "width": 459, "height": 628,
                          "title": {"text": "Time tree", "fontSize": 17, "offset": 11},
                          "layer": [
                            {
                              "data": {"name": "blkB"},
                              "mark": {"type": "rect", "color": "#7a7a7a"},
                              "encoding": {
                                "x": {"field": "d", "type": "temporal", "scale": {"type": "utc", "domain": [{"year": 2019, "month": 11, "date": 24, "utc": true}, {"year": 2022, "month": 3, "date": 5, "utc": true}], "nice": false}, "axis": {"title": null, "grid": true, "labelPadding": 3, "labelLineHeight": 16, "values": [{"year": 2020, "month": 2, "date": 1, "utc": true}, {"year": 2020, "month": 5, "date": 1, "utc": true}, {"year": 2020, "month": 8, "date": 1, "utc": true}, {"year": 2020, "month": 11, "date": 1, "utc": true}, {"year": 2021, "month": 2, "date": 1, "utc": true}, {"year": 2021, "month": 5, "date": 1, "utc": true}, {"year": 2021, "month": 8, "date": 1, "utc": true}, {"year": 2021, "month": 11, "date": 1, "utc": true}, {"year": 2022, "month": 2, "date": 1, "utc": true}], "labelExpr": "[utcFormat(datum.value, '%b'), utcFormat(datum.value, '%Y')]"}},
                                "x2": {"field": "d2"},
                                "y": {"field": "y", "type": "quantitative", "scale": {"domain": [-132, 2723], "nice": false, "zero": false}, "axis": {"title": "No of sequences", "values": [0, 500, 1000, 1500, 2000, 2500], "format": "d", "grid": true, "titlePadding": 8, "labelPadding": 3}},
                                "y2": {"field": "y2"}
                              }
                            },
                            {
                              "data": {"name": "segB"},
                              "mark": {"type": "rule", "color": "#606060", "strokeWidth": 1},
                              "encoding": {"x": {"field": "d", "type": "temporal"}, "x2": {"field": "d2"}, "y": {"field": "y", "type": "quantitative"}, "y2": {"field": "y2"}}
                            },
                            {
                              "data": {"name": "ptB"},
                              "mark": {"type": "point", "filled": true, "size": 70, "stroke": "black", "strokeWidth": 0.8, "opacity": 1},
                              "encoding": {
                                "x": {"field": "d", "type": "temporal"},
                                "y": {"field": "y", "type": "quantitative"},
                                "color": {"field": "v", "type": "nominal", "scale": {"domain": ["B.1","B.1.1.7","B.1.351","B.1.617.2","AY.16","AY.46","AY.116","AY.122","BA.1.1","BA.1.1.1","BA.1.9"], "range": ["#1b9e77","#d95f02","#7570b3","#e7298a","#66a61e","#e6ab02","#a6761d","#666666","#f9cdc5","#d1477e","#00eeee"]},
                                  "legend": {"title": "Variant", "orient": "none", "legendX": 484, "legendY": 213, "symbolType": "circle", "symbolSize": 40, "symbolStrokeColor": "black", "symbolStrokeWidth": 0.8, "labelFontSize": 15, "labelColor": "#666666", "titleFontSize": 15, "titleFontWeight": "normal", "titleColor": "black", "rowPadding": 0.2, "titlePadding": 6, "labelOffset": 4}}
                              }
                            },
                            {
                              "data": {"name": "labB"},
                              "mark": {"type": "text", "align": "left", "baseline": "middle", "fontSize": 16, "color": "black"},
                              "encoding": {"x": {"field": "d", "type": "temporal"}, "y": {"field": "y", "type": "quantitative"}, "text": {"field": "t"}}
                            }
                          ]
                        }
                      ]
                    }
                  ]
                },
                {
                  "width": 1000, "height": 161,
                  "view": {"stroke": null},
                  "data": {"name": "cap"},
                  "encoding": {
                    "y": {"field": "line", "type": "ordinal", "scale": {"type": "point", "domain": [0, 1, 2, 3, 4, 5], "padding": 0}, "axis": null},
                    "x": {"value": 0},
                    "text": {"field": "t"}
                  },
                  "layer": [
                    {"transform": [{"filter": "datum.s == 0"}], "mark": {"type": "text", "align": "left", "baseline": "middle", "fontSize": 31.8, "fontWeight": "bold", "color": "black", "dx": -104, "dy": -6}},
                    {"transform": [{"filter": "datum.s == 1"}], "mark": {"type": "text", "align": "left", "baseline": "middle", "fontSize": 29.5, "color": "black", "dx": -104}},
                    {"transform": [{"filter": "datum.s == 2"}], "mark": {"type": "text", "align": "left", "baseline": "middle", "fontSize": 29.5, "fontWeight": "bold", "color": "black", "dx": 1003}},
                    {"transform": [{"filter": "datum.s == 3"}], "mark": {"type": "text", "align": "left", "baseline": "middle", "fontSize": 29.5, "fontWeight": "bold", "color": "black", "dx": 205}},
                    {"transform": [{"filter": "datum.s == 4"}], "mark": {"type": "text", "align": "left", "baseline": "middle", "fontSize": 29.5, "color": "black", "dx": 328}}
                  ]
                }
              ]
            }
          ]
        }
      ]
    }
  ]
}
